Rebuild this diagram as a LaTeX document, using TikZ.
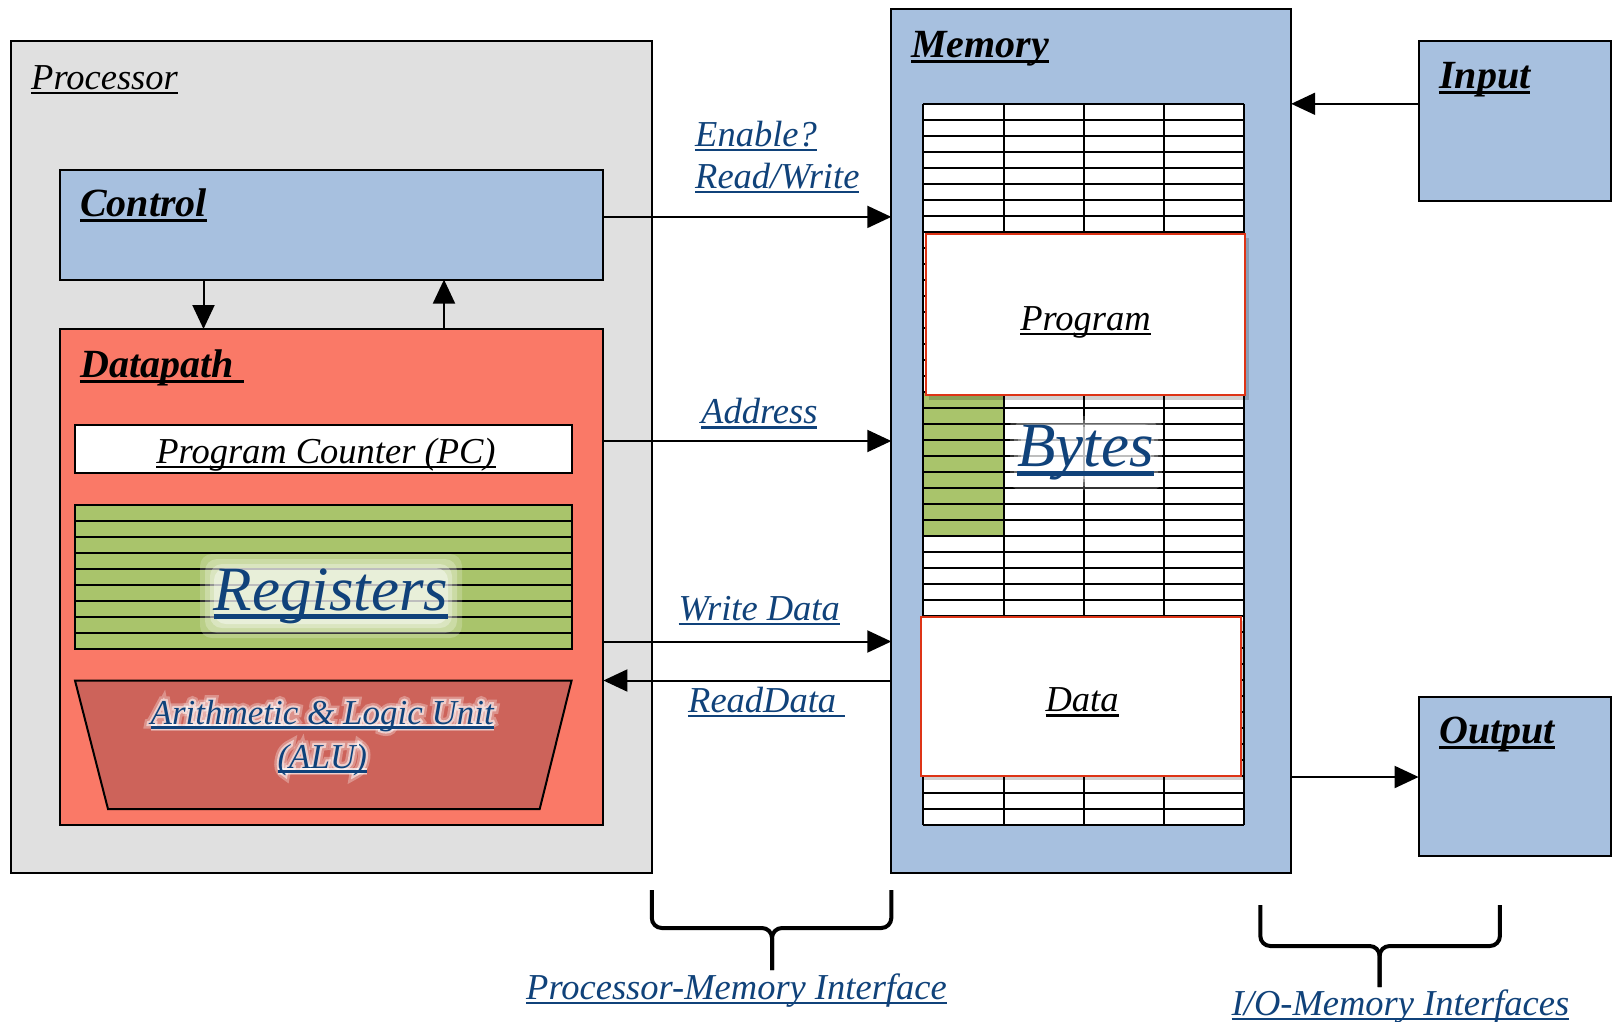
\documentclass[tikz,border=0pt]{standalone}
\usepackage{fontspec}
\setmainfont{Liberation Serif}
\usetikzlibrary{arrows.meta,calc}
\definecolor{procgray}{RGB}{224,224,224}
\definecolor{lblue}{RGB}{167,192,223}
\definecolor{salmon}{RGB}{250,121,103}
\definecolor{regreen}{RGB}{169,196,107}
\definecolor{alured}{RGB}{205,99,90}
\definecolor{txtblue}{RGB}{16,66,122}
\definecolor{boxred}{RGB}{222,52,22}
\font\halothin="Liberation Serif/I:embolden=12" at 35pt
\font\halothick="Liberation Serif/I:embolden=26" at 35pt
\newcommand\ulx[1]{\setbox0=\hbox{#1}\rlap{\rule[-0.14em]{\wd0}{0.07em}}\box0}
\newcommand\ulh[2]{\setbox0=\hbox{#2}\rlap{\rule[-#1em]{\wd0}{#1em}}\box0}
\tikzset{
  box/.style={draw=black, line width=2pt, anchor=north west, inner sep=0pt, outer sep=0pt},
  arr/.style={line width=2pt, -{Triangle[length=24pt,width=22pt]}},
  lbl/.style={inner sep=0pt, anchor=base west, font=\fontsize{36.5}{40}\selectfont\itshape},
  blbl/.style={lbl, font=\fontsize{40}{44}\selectfont\bfseries\itshape},
  bluelbl/.style={lbl, text=txtblue},
  alulbl/.style={inner sep=0pt, anchor=base, text=txtblue, font=\fontsize{35}{40}\selectfont\itshape},
  biglbl/.style={inner sep=0pt, anchor=base, text=txtblue, font=\fontsize{63}{68}\selectfont\itshape},
  gridl/.style={line width=2pt},
  brc/.style={line width=4pt, rounded corners=10pt},
}
\begin{document}
\begin{tikzpicture}[x=1pt,y=-1pt]
\useasboundingbox[fill=white] (0,0) rectangle (1612,1021);

% ---------------- Processor ----------------
\node[box, fill=procgray, minimum width=640.5pt, minimum height=831.7pt] (proc) at (11.3,41.1) {};
\node[lbl] (proctxt) at (31,89) {\ulx{Processor}};

\node[box, fill=lblue, minimum width=543.8pt, minimum height=110pt] (ctrl) at (59.6,169.6) {};
\node[blbl] (ctrltxt) at (80,216) {\ulx{Control}};

\node[box, fill=salmon, minimum width=543.8pt, minimum height=495.5pt] (dp) at (59.6,329) {};
\node[blbl] (dptxt) at (80,377) {\ulx{Datapath\ }};

\node[box, fill=white, minimum width=496.6pt, minimum height=48.3pt] (pc) at (75,424.6) {};
\node[lbl, anchor=base] (pctxt) at (326,463) {\ulx{Program Counter (PC)}};

\node[box, fill=regreen, minimum width=496.6pt, minimum height=144pt] (regs) at (75,504.7) {};
\foreach \i in {1,...,8} \draw[gridl] (75,{504.7+16*\i}) -- (571.6,{504.7+16*\i});
\foreach \s/\o in {16/0.2, 11/0.25, 6/0.3, 2/0.4}
  \fill[white, opacity=\o, rounded corners=12pt] ({216-\s},{570-\s}) rectangle ({446+\s},{622+\s});
\node[biglbl] (regtxt) at (331,610) {\ulx{Registers}};

\draw[line width=2pt, fill=alured] (75,680.5) -- (571.6,680.5) -- (539.7,809) -- (108,809) -- cycle;
\node[alulbl, text=white, opacity=0.3, font=\halothick] (aluhaloA) at (322.3,724) {\ulh{0.2}{Arithmetic \& Logic Unit}};
\node[alulbl, text=white, opacity=0.55, font=\halothin] (aluhaloB) at (322.3,724) {\ulh{0.16}{Arithmetic \& Logic Unit}};
\node[alulbl] (alutxtA) at (322.3,724) {\ulx{Arithmetic \& Logic Unit}};
\node[alulbl, text=white, opacity=0.3, font=\halothick] (aluhaloC) at (322.3,768) {\ulh{0.2}{(ALU)}};
\node[alulbl, text=white, opacity=0.55, font=\halothin] (aluhaloD) at (322.3,768) {\ulh{0.16}{(ALU)}};
\node[alulbl] (alutxtB) at (322.3,768) {\ulx{(ALU)}};

% ---------------- Memory ----------------
\node[box, fill=lblue, minimum width=399.9pt, minimum height=863.5pt] (mem) at (891.3,9.3) {};
\node[blbl] (memtxt) at (911,57) {\ulx{Memory}};
\fill[white] (923.1,103.8) rectangle (1243.9,824.5);
\fill[regreen] (923.1,392.1) rectangle (1004.4,536.2);
\foreach \i in {0,...,45} \draw[gridl] (923.1,{103.8+16.016*\i}) -- (1243.9,{103.8+16.016*\i});
\foreach \x in {923.1,1004.4,1083.5,1163.7,1243.9} \draw[gridl] (\x,103.8) -- (\x,824.5);
\foreach \s/\o in {12/0.2, 8/0.25, 4/0.3, 1/0.4}
  \fill[white, opacity=\o, rounded corners=10pt] ({1022-\s},{428-\s}) rectangle ({1150+\s},{478+\s});
\node[biglbl] (bytestxt) at (1085.6,466.7) {\ulx{Bytes}};

\fill[black, opacity=0.18] (929.2,238.4) rectangle (1248.9,399.8);
\node[box, draw=boxred, fill=white, minimum width=318.7pt, minimum height=160.4pt] (prog) at (926.2,234.4) {};
\node[lbl, anchor=base] (progtxt) at (1085.5,330) {\ulx{Program}};

\fill[black, opacity=0.18] (924,620.7) rectangle (1244.8,780);
\node[box, draw=boxred, fill=white, minimum width=319.8pt, minimum height=159.3pt] (data) at (921,616.7) {};
\node[lbl, anchor=base] (datatxt) at (1082,711.7) {\ulx{Data}};

% ---------------- I/O ----------------
\node[box, fill=lblue, minimum width=192pt, minimum height=159.4pt] (inp) at (1418.6,41.1) {};
\node[blbl] (inptxt) at (1439,88.5) {\ulx{Input}};
\node[box, fill=lblue, minimum width=192pt, minimum height=159.3pt] (outp) at (1418.6,697) {};
\node[blbl] (outptxt) at (1439,743) {\ulx{Output}};

% ---------------- Connectors ----------------
\coordinate (xd) at (203.5,0);
\coordinate (xu) at (444,0);
\coordinate (yc) at (0,216.9);
\coordinate (ya) at (0,441);
\coordinate (yw) at (0,641.5);
\coordinate (yr) at (0,680.5);
\coordinate (yin) at (0,103.8);
\coordinate (yout) at (0,777);
\draw[arr] (ctrl.south -| xd) -- (dp.north -| xd);
\draw[arr] (dp.north -| xu) -- (ctrl.south -| xu);
\draw[arr] (ctrl.east |- yc) -- (mem.west |- yc);
\draw[arr] (dp.east |- ya) -- (mem.west |- ya);
\draw[arr] (dp.east |- yw) -- (mem.west |- yw);
\draw[arr] (mem.west |- yr) -- (dp.east |- yr);
\draw[arr] (inp.west |- yin) -- (mem.east |- yin);
\draw[arr] (mem.east |- yout) -- (outp.west |- yout);

\node[bluelbl] (entxt) at (695,146) {\ulx{Enable?}};
\node[bluelbl] (rwtxt) at (695,188) {\ulx{Read/Write}};
\node[bluelbl] (addrtxt) at (701,423.5) {\ulx{Address}};
\node[bluelbl] (wdtxt) at (678.5,620) {\ulx{Write Data}};
\node[bluelbl] (rdtxt) at (688,712) {\ulx{ReadData\ }};

% ---------------- Braces ----------------
\draw[brc] (651.8,890) -- (651.8,928) -- (772,928) -- (772,970);
\draw[brc] (891.3,890) -- (891.3,928) -- (772,928) -- (772,970);
\node[bluelbl] (pmitxt) at (526,999) {\ulx{Processor-Memory Interface}};

\draw[brc] (1260.3,905) -- (1260.3,946) -- (1379.6,946) -- (1379.6,987);
\draw[brc] (1499.9,905) -- (1499.9,946) -- (1379.6,946) -- (1379.6,987);
\node[bluelbl] (iomtxt) at (1231.5,1015) {\ulx{I/O-Memory Interfaces}};
\end{tikzpicture}
\end{document}
